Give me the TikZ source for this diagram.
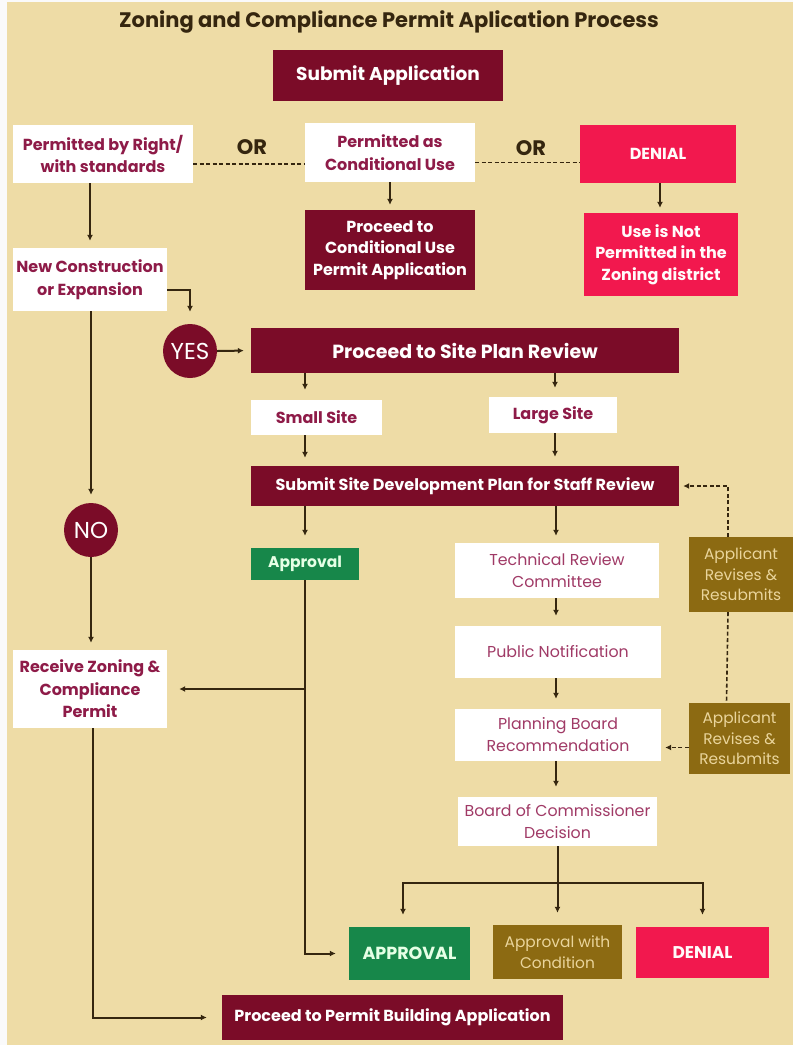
\documentclass[tikz,border=0pt]{standalone}
\usepackage{fontspec}
\setmainfont{Poppins}
\usetikzlibrary{arrows.meta}
\definecolor{bg}{HTML}{EEDCA6}
\definecolor{maroon}{HTML}{7B0C28}
\definecolor{txtm}{HTML}{8E1B48}
\definecolor{txtl}{HTML}{A03A66}
\definecolor{redx}{HTML}{F2184E}
\definecolor{greenx}{HTML}{17874A}
\definecolor{olive}{HTML}{8C6A12}
\definecolor{olivetxt}{HTML}{EAD59C}
\definecolor{lc}{HTML}{35260F}
\tikzset{
  base/.style={rectangle, inner sep=0pt, align=center, anchor=center},
  wbox/.style={base, fill=white, text=txtm, font=\bfseries\fontsize{16}{22.5}\selectfont},
  wlbox/.style={base, fill=white, text=txtl, font=\fontsize{15.8}{22}\selectfont},
  mbox/.style={base, fill=maroon, text=white, font=\bfseries\fontsize{16}{21.5}\selectfont},
  rbox/.style={base, fill=redx, text=white!92!pink, font=\bfseries\fontsize{16}{21.5}\selectfont},
  gbox/.style={base, fill=greenx, text=white!90!green, font=\bfseries\fontsize{15.5}{21}\selectfont},
  obox/.style={base, fill=olive, text=olivetxt, font=\fontsize{15.4}{20.5}\selectfont},
  circ/.style={circle, fill=maroon, text=white, minimum size=54pt, inner sep=0pt, font=\fontsize{23}{24}\selectfont},
  ortext/.style={text=lc, font=\bfseries\fontsize{21}{22}\selectfont},
  line/.style={draw=lc, line width=2pt},
  arr/.style={line, -{Latex[length=6pt,width=6pt]}, shorten >=7pt},
  dline/.style={draw=lc, line width=1.6pt, dash pattern=on 4pt off 2.5pt},
  darr/.style={dline, -{Latex[length=6pt,width=6pt]}, shorten >=4pt}
}
\begin{document}
\begin{tikzpicture}[x=1pt,y=-1pt]
\useasboundingbox (0,0) rectangle (793,1045);
\fill[white!96!gray] (0,0) rectangle (793,1045);
\fill[bg] (7,2) rectangle (793,1045);

\node[text=lc, font=\bfseries\fontsize{21}{24}\selectfont] (title) at (389,22) {Zoning and Compliance Permit Aplication Process};

\node[mbox, minimum width=230pt, minimum height=51pt, font=\bfseries\fontsize{18.5}{22}\selectfont] (submit) at (388,75.5) {Submit Application};

\node[wbox, minimum width=180pt, minimum height=58pt] (pright) at (103,154) {Permitted by Right/\\with standards};
\node[wbox, minimum width=170pt, minimum height=59pt] (pcond) at (390,152.5) {Permitted as\\Conditional Use};
\node[rbox, minimum width=156pt, minimum height=58pt] (den1) at (658,154) {DENIAL};
\node[ortext] (or1) at (252,147) {OR};
\node[ortext] (or2) at (531,148) {OR};

\node[mbox, minimum width=170pt, minimum height=80pt] (condapp) at (390,250) {Proceed to\\Conditional Use\\Permit Application};
\node[rbox, minimum width=154pt, minimum height=83pt] (notperm) at (661,254.5) {Use is Not\\Permitted in the\\Zoning district};

\node[wbox, minimum width=154pt, minimum height=63pt] (newcon) at (90,279.5) {New Construction\\or Expansion};
\node[circ] (yes) at (190,351) {YES};
\node[mbox, minimum width=428pt, minimum height=45pt, font=\bfseries\fontsize{19}{22}\selectfont] (siteplan) at (465,350.5) {Proceed to Site Plan Review};

\node[wbox, minimum width=131pt, minimum height=35pt] (small) at (316.5,417.5) {Small Site};
\node[wbox, minimum width=128pt, minimum height=36pt] (large) at (553,415) {Large Site};

\node[mbox, minimum width=428pt, minimum height=40pt] (sdp) at (465,486) {Submit Site Development Plan for Staff Review};

\node[gbox, minimum width=108pt, minimum height=32pt] (appr1) at (305,564) {Approval};
\node[circ] (no) at (91,530) {NO};

\node[wlbox, minimum width=204pt, minimum height=55pt] (trc) at (557,570.5) {Technical Review\\Committee};
\node[wlbox, minimum width=206pt, minimum height=52pt] (pubnot) at (558,652) {Public Notification};
\node[wlbox, minimum width=206pt, minimum height=52pt] (pbr) at (558,735) {Planning Board\\Recommendation};
\node[wlbox, minimum width=199pt, minimum height=49pt] (boc) at (557.5,821.5) {Board of Commissioner\\Decision};

\node[obox, minimum width=104pt, minimum height=75pt] (ar1) at (741,574.5) {Applicant\\Revises \&\\Resubmits};
\node[obox, minimum width=101pt, minimum height=71pt] (ar2) at (739.5,738.5) {Applicant\\Revises \&\\Resubmits};

\node[wbox, minimum width=154pt, minimum height=78pt] (receive) at (90,689) {Receive Zoning \&\\Compliance\\Permit};

\node[gbox, minimum width=121pt, minimum height=53pt, font=\bfseries\fontsize{17.5}{21}\selectfont] (appr2) at (409.5,953.5) {APPROVAL};
\node[obox, minimum width=129pt, minimum height=54pt] (awc) at (557.5,952) {Approval with\\Condition};
\node[rbox, minimum width=133pt, minimum height=51pt, font=\bfseries\fontsize{17}{21}\selectfont] (den2) at (702.5,952.5) {DENIAL};

\node[mbox, minimum width=341pt, minimum height=45pt] (pbuild) at (392.5,1017.5) {Proceed to Permit Building Application};

% connectors
\draw[dline] ([yshift=-10pt]pright.east) -- ([yshift=-10pt]pright.east -| pcond.west);
\draw[dline] ([yshift=-10pt]pcond.east) -- ([yshift=-10pt]pcond.east -| den1.west);
\draw[arr] (pright.south -| newcon.north) -- (newcon.north);
\draw[arr, shorten >=5pt] (pcond.south) -- (condapp.north);
\draw[arr, shorten >=5pt] (den1.south -| 660,0) -- (notperm.north -| 660,0);
\draw[arr, shorten >=12pt] ([yshift=-10pt]newcon.east) -| (yes.north);
\draw[arr] (yes.east) -- (siteplan.west);
\draw[arr, shorten >=10pt] (siteplan.south -| 305,0) -- (small.north -| 305,0);
\draw[arr, shorten >=9pt] (siteplan.south -| 555,0) -- (large.north -| 555,0);
\draw[arr, shorten >=8pt] (small.south -| 305,0) -- (sdp.north -| 305,0);
\draw[arr, shorten >=9pt] (large.south -| 555,0) -- (sdp.north -| 555,0);
\draw[arr, shorten >=12pt] (sdp.south -| appr1.north) -- (appr1.north);
\draw[arr, shorten >=7pt] (sdp.south -| 556,0) -- (trc.north -| 556,0);
\draw[arr, shorten >=10pt] (trc.south -| 556,0) -- (pubnot.north -| 556,0);
\draw[arr, shorten >=10pt] (pubnot.south -| 556,0) -- (pbr.north -| 556,0);
\draw[arr, shorten >=10pt] (pbr.south -| 556,0) -- (boc.north -| 556,0);
\coordinate (sp) at (557.5,883);
\draw[line] (boc.south) -- (sp);
\draw[arr, shorten >=12pt] (sp) -| (appr2.north -| 403,0);
\draw[arr, shorten >=12pt] (sp) -- (awc.north);
\draw[arr, shorten >=12pt] (sp) -| (den2.north);
\draw[arr, shorten >=13pt] (appr1.south) |- (appr2.west);
\draw[arr, shorten >=12pt] (appr1.south |- receive.east) -- (receive.east);
\draw[arr, shorten >=8pt] (newcon.south -| no.north) -- (no.north);
\draw[arr, shorten >=7pt] (no.south) -- (receive.north -| no.south);
\draw[arr, shorten >=15pt] (receive.south -| 93,0) |- (pbuild.west);
\draw[darr] ([xshift=-13pt]ar1.north) |- (sdp.east);
\draw[dline] ([xshift=-13pt]ar1.south) -- ([xshift=-13pt]ar2.north);
\draw[darr] ([yshift=-9pt]ar2.west) -- ([yshift=-9pt]ar2.west -| pbr.east);
\end{tikzpicture}
\end{document}
